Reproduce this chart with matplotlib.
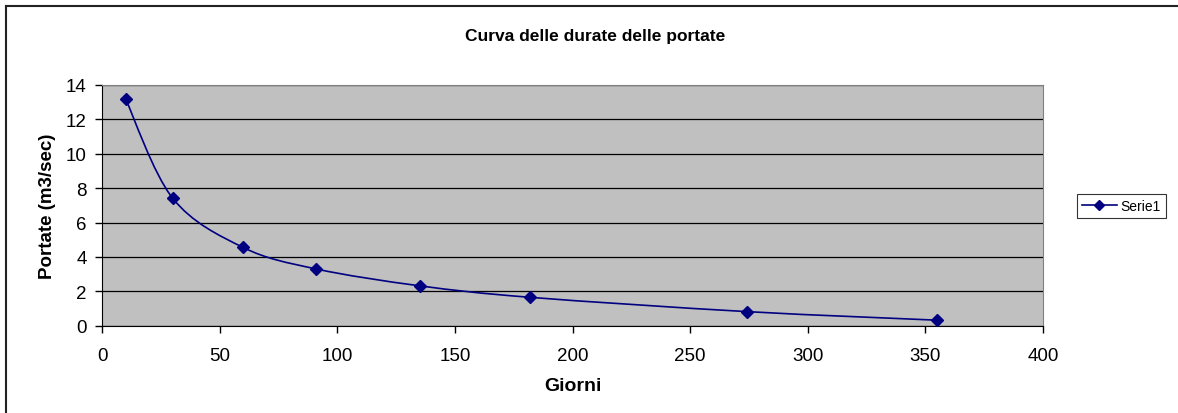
import matplotlib
matplotlib.use("Agg")
import matplotlib.pyplot as plt
from matplotlib.path import Path
from matplotlib.patches import PathPatch
from matplotlib.lines import Line2D

plt.rcParams['font.family'] = ['Liberation Sans', 'DejaVu Sans']

# data
giorni = [10, 30, 60, 91, 135, 182, 274, 355]
portate = [13.2, 7.42, 4.55, 3.3, 2.32, 1.65, 0.82, 0.32]
x_ticks = [0, 50, 100, 150, 200, 250, 300, 350, 400]
y_ticks = [0, 2, 4, 6, 8, 10, 12, 14]

navy = '#000080'

fig = plt.figure(figsize=(11.78, 4.14), dpi=100)
ax = fig.add_axes([0.0866, 0.2109, 0.7988, 0.5814])
ax.set_facecolor('#C0C0C0')

# smoothed line like excel (catmull-rom -> bezier)
verts = [(giorni[0], portate[0])]
codes = [Path.MOVETO]
n = len(giorni)
for i in range(n - 1):
    x0, y0 = giorni[max(i - 1, 0)], portate[max(i - 1, 0)]
    x1, y1 = giorni[i], portate[i]
    x2, y2 = giorni[i + 1], portate[i + 1]
    x3, y3 = giorni[min(i + 2, n - 1)], portate[min(i + 2, n - 1)]
    c1 = (x1 + (x2 - x0) / 6, y1 + (y2 - y0) / 6)
    c2 = (x2 - (x3 - x1) / 6, y2 - (y3 - y1) / 6)
    verts += [c1, c2, (x2, y2)]
    codes += [Path.CURVE4] * 3
ax.add_patch(PathPatch(Path(verts, codes), facecolor='none', edgecolor=navy, lw=1.2, zorder=3))
ax.plot(giorni, portate, linestyle='none', marker='D', ms=6, color=navy, zorder=4)

ax.set_xlim(0, 400)
ax.set_ylim(0, 14)
ax.set_xticks(x_ticks)
ax.set_yticks(y_ticks)
ax.yaxis.grid(True, color='black', lw=0.9)
ax.set_axisbelow(True)
ax.tick_params(axis='both', labelsize=13.5, length=5, width=1, color='black')
ax.tick_params(axis='x', pad=10)
ax.tick_params(axis='y', pad=6)
for s in ['top', 'right']:
    ax.spines[s].set_color('#808080')
for s in ['left', 'bottom']:
    ax.spines[s].set_color('black')

ax.set_xlabel('Giorni', fontsize=14, fontweight='bold', labelpad=10)
ax.set_ylabel('Portate (m3/sec)', fontsize=13.5, fontweight='bold', labelpad=7)
fig.text(595 / 1178, 1 - 37 / 414, 'Curva delle durate delle portate',
         ha='center', va='center', fontsize=12.5, fontweight='bold')

handle = Line2D([], [], color=navy, marker='D', ms=5, lw=1.2)
leg = fig.legend([handle], ['Serie1'], loc='center left',
                 bbox_to_anchor=(1077 / 1178, 1 - 207 / 414), fontsize=10,
                 frameon=True, fancybox=False, edgecolor='black',
                 handlelength=2.5, borderpad=0.35, borderaxespad=0,
                 handletextpad=0.3)
leg.get_frame().set_linewidth(0.8)

# outer chart border
fig.add_artist(Line2D([6 / 1178, 1], [1 - 7 / 414, 1 - 7 / 414], color='#222222', lw=1.5))
fig.add_artist(Line2D([6 / 1178, 6 / 1178], [0, 1 - 7 / 414], color='#222222', lw=1.5))

fig.savefig('out.png', dpi=100)
